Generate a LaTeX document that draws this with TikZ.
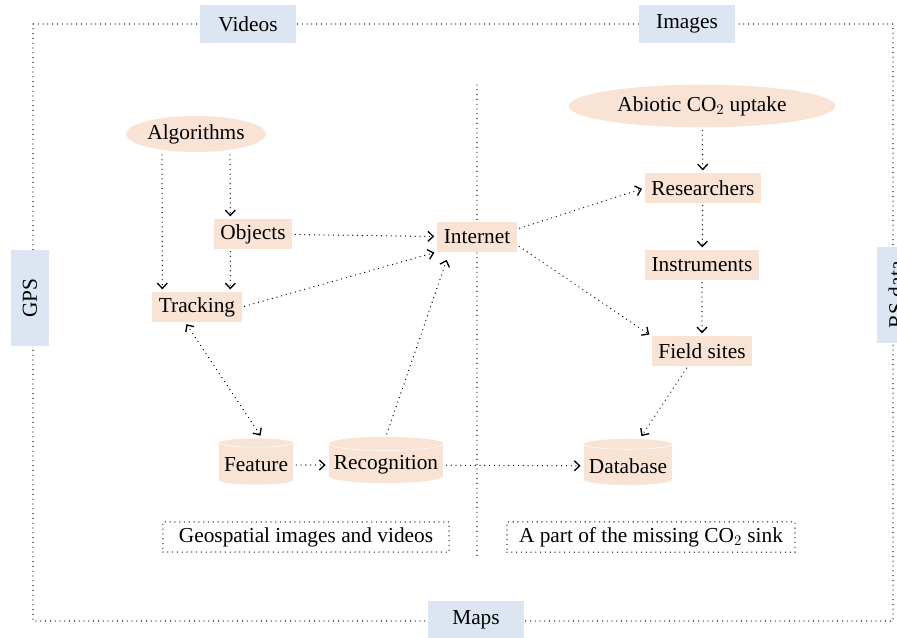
\documentclass[tikz,border=0pt]{standalone}
\usepackage{fontspec}
\setmainfont{Liberation Serif}
\usepackage{tikz}
\usetikzlibrary{arrows.meta,shapes.geometric}
\definecolor{peachcol}{HTML}{F9E3D5}
\definecolor{tagcol}{HTML}{DCE6F2}

\begin{document}
\begin{tikzpicture}[x=0.75pt, y=-0.75pt, >={Straight Barb[length=4pt,width=7.5pt]},
    every node/.style={font=\fontsize{16}{19}\selectfont},
    dots/.style={line width=1pt, line cap=round, dash pattern=on 0pt off 3.6pt},
    tag/.style={fill=tagcol, minimum width=72pt, minimum height=28pt, inner sep=2pt},
    box/.style={fill=peachcol, minimum height=22pt, inner xsep=5pt, inner ysep=2pt},
    blob/.style={ellipse, fill=peachcol, inner sep=0pt},
    store/.style={cylinder, shape border rotate=90, aspect=0.12, fill=peachcol,
        draw=white, thin, inner xsep=4pt, minimum height=35pt},
    link/.style={dots, ->, shorten >=2pt, shorten <=2pt}]

    \useasboundingbox (0,0) rectangle (897,637);

    % ── Outer frame ───────────────────────────────────────────────────────────
    \draw[dots] (33,24) rectangle (893,621);
    \node[tag] (videos) at (248,24) {Videos};
    \node[tag] (images) at (687,24) {Images};
    \node[tag] (maps)   at (476,620) {Maps};
    \node[tag, rotate=90] (gps)    at (30,298)  {GPS};
    \node[tag, rotate=90] (rsdata) at (896,295) {RS data};

    % ── Divider ───────────────────────────────────────────────────────────────
    \draw[dots] (477,85) -- (477,557);

    % ── Left half ─────────────────────────────────────────────────────────────
    \node[blob, minimum width=105pt, minimum height=27pt] (algo) at (196,134) {Algorithms};
    \node[box] (objects)  at (253,234) {Objects};
    \node[box] (tracking) at (197,307) {Tracking};
    \node[box] (internet) at (477,237) {Internet};
    \node[store] (feature) at (256,465) {Feature};
    \node[store] (recog)   at (386,465) {Recognition};
    \node[draw, dots, inner xsep=12pt, inner ysep=4pt] (geo)
        at (306,537) {Geospatial images and videos};

    % ── Right half ────────────────────────────────────────────────────────────
    \node[blob, minimum width=200pt, minimum height=32pt] (abiotic) at (702,106)
        {Abiotic CO$_2$ uptake};
    \node[box] (research) at (703,188) {Researchers};
    \node[box] (instr)    at (702,265) {Instruments};
    \node[box] (field)    at (702,351) {Field sites};
    \node[store] (dbase)  at (628,466) {Database};
    \node[draw, dots, inner xsep=9pt, inner ysep=4pt] (sink)
        at (651,537) {A part of the missing CO$_2$ sink};

    % ── Connectors ────────────────────────────────────────────────────────────
    \draw[link] ([xshift=-25.5pt]algo.south) -- ([xshift=-26pt]tracking.north);
    \draw[link] ([xshift=25.5pt]algo.south) -- ([xshift=-17pt]objects.north);
    \draw[link] ([xshift=-17pt]objects.south) -- ([xshift=25pt]tracking.north);
    \draw[link] (objects) -- (internet);
    \draw[link] (tracking.east) -- (internet.south west);
    \draw[link, <->] ([xshift=-9pt]tracking.south) -- ([xshift=4.5pt]feature.north);
    \draw[link] (feature) -- (recog);
    \draw[link] (recog.north) -- ([xshift=8pt,yshift=-4pt]internet.south west);
    \draw[link] (recog) -- (dbase);
    \draw[link] ([yshift=6pt]internet.east) -- (research.west);
    \draw[link] ([yshift=-6pt]internet.east) -- (field.north west);
    \draw[link] (abiotic) -- (research);
    \draw[link] (research) -- (instr);
    \draw[link] (instr) -- (field);
    \draw[link] ([xshift=-10.5pt]field.south) -- ([xshift=9pt]dbase.north);

\end{tikzpicture}
\end{document}
